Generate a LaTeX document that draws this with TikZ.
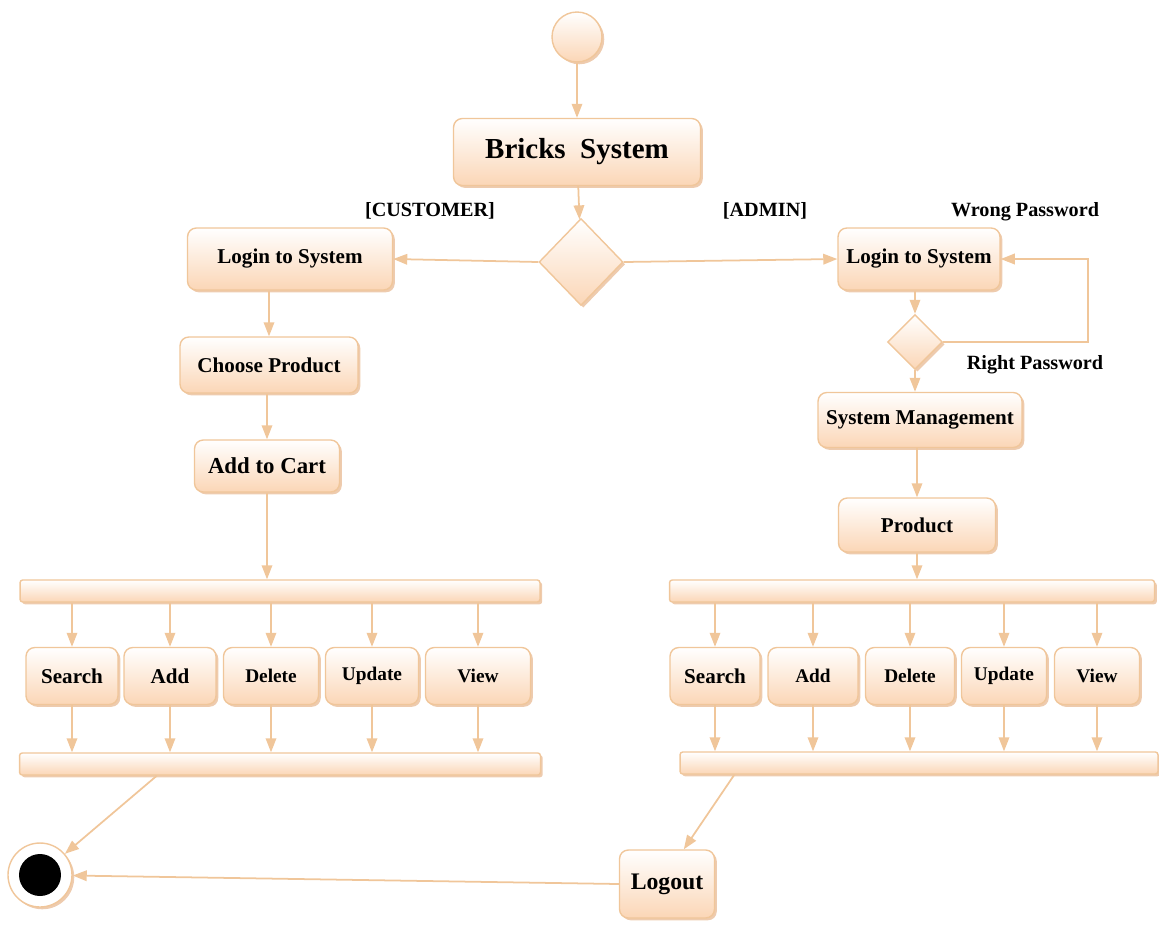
\documentclass[tikz,border=0pt]{standalone}
\usepackage{fontspec}
\setmainfont{Liberation Serif}
\usetikzlibrary{arrows.meta,shapes.geometric,shadows}

\definecolor{peachline}{RGB}{240,198,154}
\definecolor{peachfill}{RGB}{251,214,182}
\definecolor{peachshade}{RGB}{226,168,120}

\begin{document}
\begin{tikzpicture}[x=0.02cm, y=-0.02cm,
    softshadow/.style={drop shadow={shadow xshift=1.3pt, shadow yshift=-1.3pt, fill=peachshade, opacity=0.6}},
    actbox/.style={draw=peachline, line width=0.8pt, rounded corners=5pt, top color=white, bottom color=peachfill, softshadow, font=\bfseries\fontsize{12}{14}\selectfont, inner sep=2pt},
    barbox/.style={draw=peachline, line width=0.8pt, rounded corners=1.5pt, top color=white, bottom color=peachfill, softshadow, minimum height=0.44cm, inner sep=0pt},
    decision/.style={diamond, draw=peachline, line width=0.8pt, top color=white, bottom color=peachfill, softshadow, inner sep=0pt},
    flow/.style={draw=peachline, line width=1pt, -{Triangle[width=6pt,length=8pt]}},
    guard/.style={font=\bfseries\fontsize{11.5}{14}\selectfont}]

    \useasboundingbox (0,0) rectangle (1159,937);

    % Start and main system
    \node[circle, draw=peachline, line width=0.8pt, top color=white, bottom color=peachfill, softshadow, minimum size=1cm] (start) at (577,37) {};
    \node[actbox, minimum width=4.94cm, minimum height=1.34cm, font=\bfseries\fontsize{16.5}{20}\selectfont] (bricks) at (577,152) {Bricks~ System};
    \node[decision, minimum width=1.68cm, minimum height=1.74cm] (dec) at (581,262) {};

    % Guards
    \node[guard] (custguard) at (430,211) {[CUSTOMER]};
    \node[guard] (admguard) at (765,211) {[ADMIN]};
    \node[guard] (wrongpw) at (1025,212) {Wrong Password};
    \node[guard] (rightpw) at (1035,365) {Right Password};

    % Customer branch
    \node[actbox, minimum width=4.1cm, minimum height=1.24cm] (logincust) at (290,259) {Login to System};
    \node[actbox, minimum width=3.56cm, minimum height=1.12cm] (choose) at (269,365) {Choose Product};
    \node[actbox, minimum width=2.9cm, minimum height=1.04cm, font=\bfseries\fontsize{13}{15}\selectfont] (cart) at (267,466) {Add to Cart};
    \node[barbox, minimum width=10.4cm] (custfork) at (280,591) {};
    \node[actbox, minimum width=1.84cm, minimum height=1.14cm] (csearch) at (72,676) {Search};
    \node[actbox, minimum width=1.84cm, minimum height=1.14cm] (cadd) at (170,676) {Add};
    \node[actbox, minimum width=1.9cm, minimum height=1.14cm, font=\bfseries\fontsize{11}{13}\selectfont] (cdelete) at (271,676) {Delete};
    \node[actbox, minimum width=1.86cm, minimum height=1.14cm, font=\bfseries\fontsize{11}{13}\selectfont] (cupdate) at (372,676) {Update};
    \node[actbox, minimum width=2.1cm, minimum height=1.14cm, font=\bfseries\fontsize{11}{13}\selectfont] (cview) at (478,676) {View};
    \node[barbox, minimum width=10.42cm] (custjoin) at (280,764) {};

    % Admin branch
    \node[actbox, minimum width=3.24cm, minimum height=1.24cm] (loginadm) at (919,259) {Login to System};
    \node[decision, minimum width=1.1cm, minimum height=1.1cm] (dec2) at (915,342) {};
    \node[actbox, minimum width=4.08cm, minimum height=1.1cm] (sysmgmt) at (920,420) {System Management};
    \node[actbox, minimum width=3.14cm, minimum height=1.08cm] (product) at (917,525) {Product};
    \node[barbox, minimum width=9.7cm] (admfork) at (912,591) {};
    \node[actbox, minimum width=1.8cm, minimum height=1.14cm] (asearch) at (715,676) {Search};
    \node[actbox, minimum width=1.8cm, minimum height=1.14cm, font=\bfseries\fontsize{11}{13}\selectfont] (aadd) at (813,676) {Add};
    \node[actbox, minimum width=1.78cm, minimum height=1.14cm, font=\bfseries\fontsize{11}{13}\selectfont] (adelete) at (910,676) {Delete};
    \node[actbox, minimum width=1.7cm, minimum height=1.14cm, font=\bfseries\fontsize{11}{13}\selectfont] (aupdate) at (1004,676) {Update};
    \node[actbox, minimum width=1.7cm, minimum height=1.14cm, font=\bfseries\fontsize{11}{13}\selectfont] (aview) at (1097,676) {View};
    \node[barbox, minimum width=9.56cm] (admjoin) at (919,763) {};

    % End
    \node[actbox, minimum width=1.9cm, minimum height=1.36cm, font=\bfseries\fontsize{13.5}{16}\selectfont] (logout) at (667,884) {Logout};
    \node[circle, draw=peachline, line width=0.8pt, fill=white, softshadow, minimum size=1.28cm] (finish) at (40,875) {};
    \node[circle, fill=black, minimum size=0.84cm] (finishdot) at (finish) {};
    \coordinate (loopright) at (1088,340);

    % Connectors
    \draw[flow] (start) -- (bricks);
    \draw[flow] (bricks) -- (dec);
    \draw[flow] (dec.west) -- (logincust.east);
    \draw[flow] (dec.east) -- (loginadm.west);
    \draw[flow] (choose.north |- logincust.south) -- (choose.north);
    \draw[flow] (cart.north |- choose.south) -- (cart.north);
    \draw[flow] (cart.south) -- (cart.south |- custfork.north);
    \foreach \act in {csearch, cadd, cdelete, cupdate, cview}{
        \draw[flow] (\act.north |- custfork.south) -- (\act.north);
        \draw[flow] (\act.south) -- (\act.south |- custjoin.north);
    }
    \draw[flow] (dec2.north |- loginadm.south) -- (dec2.north);
    \draw[flow] (dec2.east) -- (dec2.east -| loopright) |- (loginadm.east);
    \draw[flow] (dec2.south) -- (dec2.south |- sysmgmt.north);
    \draw[flow] (product.north |- sysmgmt.south) -- (product.north);
    \draw[flow] (product.south) -- (product.south |- admfork.north);
    \foreach \act in {asearch, aadd, adelete, aupdate, aview}{
        \draw[flow] (\act.north |- admfork.south) -- (\act.north);
        \draw[flow] (\act.south) -- (\act.south |- admjoin.north);
    }
    \draw[flow] ([xshift=1.1cm]admjoin.south west) -- ([xshift=1.3cm]logout.north west);
    \draw[flow] ([xshift=2.76cm]custjoin.south west) -- (finish);
    \draw[flow] (logout.west) -- (finish);

\end{tikzpicture}
\end{document}
